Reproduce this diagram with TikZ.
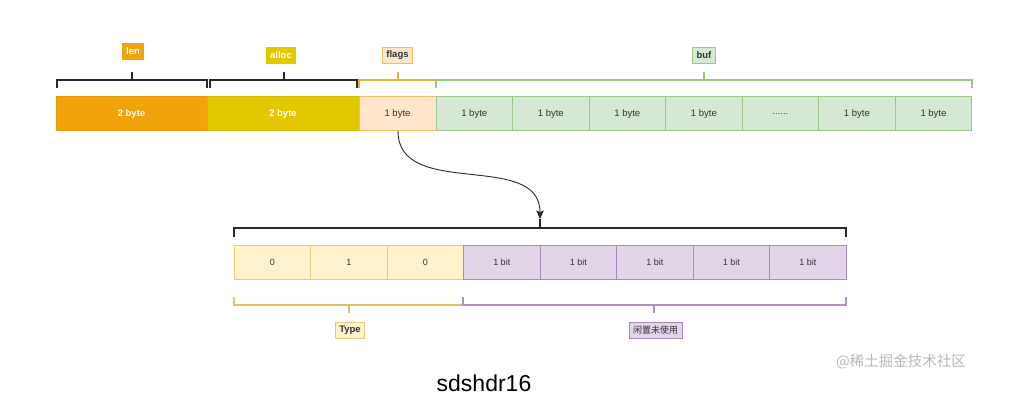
\documentclass[tikz,border=0pt]{standalone}
\usepackage{fontspec}
\setmainfont{Liberation Sans}
\newfontfamily\cjk{Noto Sans CJK SC}
\usetikzlibrary{arrows.meta}
\definecolor{txt}{HTML}{333333}
\definecolor{lenfill}{HTML}{F0A30A}
\definecolor{lendraw}{HTML}{E39A0A}
\definecolor{allocfill}{HTML}{E3C800}
\definecolor{allocdraw}{HTML}{D4BB00}
\definecolor{flagsfill}{HTML}{FFE6CC}
\definecolor{flagsdraw}{HTML}{F2C05A}
\definecolor{buffill}{HTML}{D5E8D4}
\definecolor{bufdraw}{HTML}{9CC68A}
\definecolor{yelfill}{HTML}{FFF2CC}
\definecolor{yeldraw}{HTML}{E6CD7E}
\definecolor{purfill}{HTML}{E1D5E7}
\definecolor{purdraw}{HTML}{A88BBA}
\definecolor{brkblack}{HTML}{2A2A2A}
\definecolor{brkflags}{HTML}{E5B43C}
\definecolor{brkbuf}{HTML}{98C77E}
\definecolor{brktype}{HTML}{DFC266}
\definecolor{brkpur}{HTML}{AE93C2}
\begin{document}
\begin{tikzpicture}[x=1pt,y=-1pt,
  cell/.style={draw, rectangle, inner sep=0pt, minimum height=34pt, line width=0.8pt,
    text=txt, font=\fontsize{9.5}{10}\selectfont},
  bitcell/.style={cell, minimum width=76.5pt, minimum height=33.6pt, font=\fontsize{9}{10}\selectfont},
  lbl/.style={draw, rectangle, inner xsep=4pt, inner ysep=0pt, minimum height=16pt, line width=0.8pt,
    text=txt, font=\bfseries\fontsize{9.5}{10}\selectfont},
  brk/.style={line width=1.9pt},
  arr/.style={line width=0.9pt, brkblack, -{Stealth[length=8.5pt,width=7.5pt,inset=1.5pt]}}
]
\useasboundingbox (0,0) rectangle (1011,407);
\fill[white] (0,0) rectangle (1011,407);

% top row
\node[cell, fill=lenfill, draw=lendraw, minimum width=151pt, text=white, font=\bfseries\fontsize{9.5}{10}\selectfont] (len) at (131.5,113.7) {2 byte};
\node[cell, fill=allocfill, draw=allocdraw, minimum width=152pt, text=white, font=\bfseries\fontsize{9.5}{10}\selectfont] (alloc) at (283,113.7) {2 byte};
\node[cell, fill=flagsfill, draw=flagsdraw, minimum width=77pt] (flags) at (397.5,113.7) {1 byte};
\foreach \i/\t in {0/1 byte,1/1 byte,2/1 byte,3/1 byte,4/{......},5/1 byte,6/1 byte}{
  \node[cell, fill=buffill, draw=bufdraw, minimum width=76.53pt] (buf\i) at ({436+76.53*(\i+0.5)},113.7) {\t};
}

% top labels
\node[lbl, fill=lenfill, draw=lenfill, text=white] (lenlbl) at (133,51.5) {len};
\node[lbl, fill=allocfill, draw=allocfill, text=white] (alloclbl) at (281,55) {alloc};
\node[lbl, fill=flagsfill, draw=flagsdraw] (flagslbl) at (397.5,55) {flags};
\node[lbl, fill=buffill, draw=bufdraw] (buflbl) at (704,55) {buf};

% top brackets
\draw[brk, brkblack] ([xshift=1pt,yshift=8.5pt]len.north west) -- ([xshift=1pt,yshift=16.7pt]len.north west) -- ([yshift=16.7pt]len.north east) -- ([yshift=8.5pt]len.north east);
\draw[brk, brkblack] ([xshift=0.5pt,yshift=16.7pt]len.north) -- ([xshift=0.5pt,yshift=24.5pt]len.north);
\draw[brk, brkblack] ([xshift=3.5pt,yshift=8.5pt]alloc.north west) -- ([xshift=3.5pt,yshift=16.7pt]alloc.north west) -- ([xshift=-2pt,yshift=16.7pt]alloc.north east) -- ([xshift=-2pt,yshift=8.5pt]alloc.north east);
\draw[brk, brkblack] ([xshift=1pt,yshift=16.7pt]alloc.north) -- ([xshift=1pt,yshift=24.5pt]alloc.north);
\draw[brk, brkflags] ([yshift=8.5pt]flags.north west) -- ([yshift=16.7pt]flags.north west) -- ([yshift=16.7pt]flags.north east);
\draw[brk, brkflags] ([xshift=0.5pt,yshift=16.7pt]flags.north) -- ([xshift=0.5pt,yshift=24.5pt]flags.north);
\draw[brk, brkbuf] ([yshift=8.5pt]buf0.north west) -- ([yshift=16.7pt]buf0.north west) -- ([yshift=16.7pt]buf6.north east) -- ([yshift=8.5pt]buf6.north east);
\draw[brk, brkbuf] ([yshift=16.7pt]buf3.north) -- ([yshift=24.5pt]buf3.north);

% bottom row
\foreach \i/\t in {0/0,1/1,2/0}{
  \node[bitcell, fill=yelfill, draw=yeldraw] (bit\i) at ({234+76.5*(\i+0.5)},262.5) {\t};
}
\foreach \i in {3,...,7}{
  \node[bitcell, fill=purfill, draw=purdraw] (bit\i) at ({234+76.5*(\i+0.5)},262.5) {1 bit};
}

% bracket above bottom row
\coordinate (tipend) at (540,219);
\draw[brk, brkblack] ([yshift=8.5pt]bit0.north west) -- ([yshift=17.4pt]bit0.north west) -- ([yshift=17.4pt]bit7.north east) -- ([yshift=8.5pt]bit7.north east);
\draw[brk, brkblack] (540,228) -- (tipend);

% arrow
\draw[arr] ([xshift=0.5pt]flags.south) .. controls (398,200) and (540,150) .. (tipend);

% bottom brackets
\draw[brk, brktype] ([yshift=-17.7pt]bit0.south west) -- ([yshift=-25.7pt]bit0.south west) -- ([yshift=-25.7pt]bit2.south east);
\draw[brk, brktype] ([xshift=0.25pt,yshift=-25.7pt]bit1.south) -- ([xshift=0.25pt,yshift=-33.5pt]bit1.south);
\draw[brk, brkpur] ([yshift=-17.7pt]bit3.south west) -- ([yshift=-25.7pt]bit3.south west) -- ([yshift=-25.7pt]bit7.south east) -- ([yshift=-17.7pt]bit7.south east);
\draw[brk, brkpur] ([xshift=-0.5pt,yshift=-25.7pt]bit5.south) -- ([xshift=-0.5pt,yshift=-33.5pt]bit5.south);

% bottom labels
\node[lbl, fill=yelfill, draw=yeldraw] (typelbl) at (350,330.5) {Type};
\node[lbl, fill=purfill, draw=purdraw, font=\cjk\fontsize{9}{10}\selectfont] (unusedlbl) at (655.5,330.5) {闲置未使用};

% title and watermark
\node[text=black, font=\fontsize{23}{26}\selectfont, inner sep=0pt] (title) at (484,383) {sdshdr16};
\node[text=black!28, font=\cjk\fontsize{14.5}{16}\selectfont, inner sep=0pt] (mark) at (901,362) {@稀土掘金技术社区};
\end{tikzpicture}
\end{document}
